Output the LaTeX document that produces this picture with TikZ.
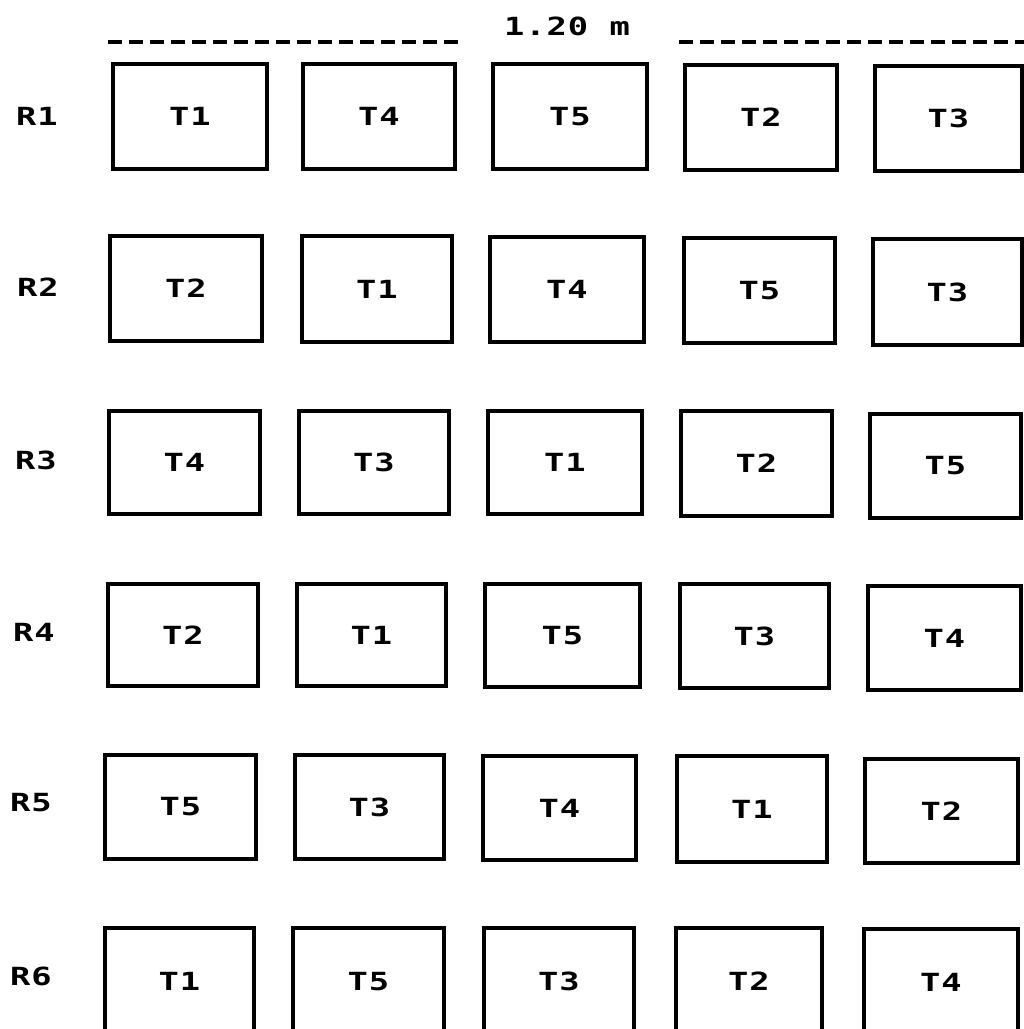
\documentclass[tikz,border=0pt]{standalone}
\usepackage{fontspec}
\newfontfamily\plotfont[FakeStretch=1.35,LetterSpace=4]{DejaVu Sans Mono}
\tikzset{
  plotbox/.style={draw=black, line width=4pt, rectangle, inner sep=0pt,
    font=\plotfont\bfseries\fontsize{25pt}{25pt}\selectfont, text=black},
  rowlabel/.style={font=\plotfont\bfseries\fontsize{25pt}{25pt}\selectfont, text=black, inner sep=0pt},
  measure/.style={draw=black, line width=3.5pt, dash pattern=on 14pt off 7pt}
}
\newcommand\plotcell[6]{%
  \node[plotbox, minimum width=#4pt-#2pt, minimum height=#5pt-#3pt]
    (#1) at ({(#2+#4)/2},{(#3+#5)/2+1}) {#6};}
\begin{document}
\begin{tikzpicture}[x=1pt,y=-1pt]
\useasboundingbox[fill=white] (0,0) rectangle (1024,1029);
% measure line
\coordinate (la) at (108,42);
\coordinate (lb) at (462,42);
\coordinate (ra) at (679,42);
\coordinate (rb) at (1026,42);
\node[rowlabel] (meas) at (567,26) {1.20 m};
\draw[measure] (la) -- (lb);
\draw[measure] (ra) -- (rb);
% row labels
\node[rowlabel] (r1) at (37,116) {R1};
\node[rowlabel] (r2) at (38,287) {R2};
\node[rowlabel] (r3) at (36,460) {R3};
\node[rowlabel] (r4) at (34,632) {R4};
\node[rowlabel] (r5) at (31,803) {R5};
\node[rowlabel] (r6) at (31,976) {R6};
% R1
\plotcell{a1}{113}{63}{267}{168}{T1}
\plotcell{a2}{303}{63}{455}{168}{T4}
\plotcell{a3}{493}{63}{647}{168}{T5}
\plotcell{a4}{685}{64}{837}{169}{T2}
\plotcell{a5}{875}{65}{1022}{170}{T3}
% R2
\plotcell{b1}{110}{235}{262}{340}{T2}
\plotcell{b2}{302}{235}{452}{341}{T1}
\plotcell{b3}{490}{236}{644}{341}{T4}
\plotcell{b4}{684}{237}{835}{342}{T5}
\plotcell{b5}{873}{238}{1022}{344}{T3}
% R3
\plotcell{c1}{109}{410}{260}{513}{T4}
\plotcell{c2}{299}{410}{449}{513}{T3}
\plotcell{c3}{488}{410}{642}{513}{T1}
\plotcell{c4}{681}{410}{832}{515}{T2}
\plotcell{c5}{870}{413}{1021}{517}{T5}
% R4
\plotcell{d1}{108}{583}{258}{685}{T2}
\plotcell{d2}{297}{583}{446}{685}{T1}
\plotcell{d3}{485}{583}{640}{686}{T5}
\plotcell{d4}{680}{583}{829}{687}{T3}
\plotcell{d5}{868}{585}{1021}{689}{T4}
% R5
\plotcell{e1}{105}{754}{256}{858}{T5}
\plotcell{e2}{295}{754}{444}{858}{T3}
\plotcell{e3}{483}{755}{636}{859}{T4}
\plotcell{e4}{677}{755}{827}{861}{T1}
\plotcell{e5}{865}{758}{1018}{862}{T2}
% R6
\plotcell{f1}{105}{927}{254}{1034}{T1}
\plotcell{f2}{293}{927}{444}{1034}{T5}
\plotcell{f3}{484}{927}{634}{1034}{T3}
\plotcell{f4}{676}{927}{822}{1034}{T2}
\plotcell{f5}{864}{928}{1018}{1034}{T4}
\end{tikzpicture}
\end{document}
